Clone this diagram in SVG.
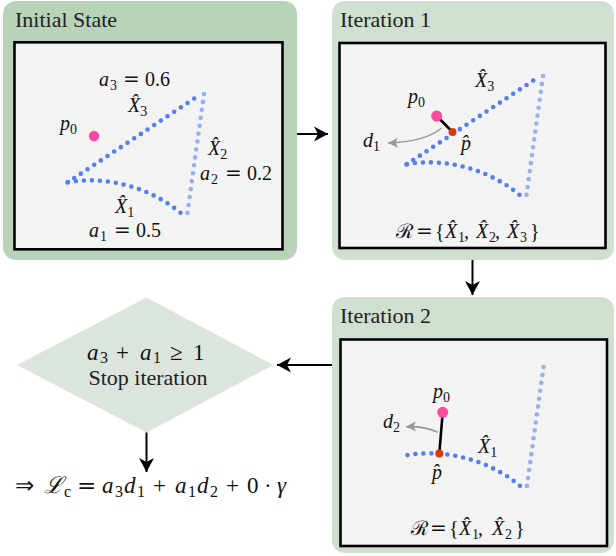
<svg xmlns="http://www.w3.org/2000/svg" xmlns:xlink="http://www.w3.org/1999/xlink" width="616" height="556" viewBox="0 0 616 556" font-family="Liberation Serif, serif">
<style>
.outer1{fill:#b8d3b8}
.outer2{fill:#cfdfd0}
.inner{fill:#f3f3f3;stroke:#000;stroke-width:2.6}
.title{font-family:"Liberation Serif",serif;font-size:22px;fill:#222}
.m{font-family:"Liberation Serif",serif;font-size:20px;fill:#111}
.eq{font-family:"DejaVu Serif","DejaVu Sans",sans-serif}
.b{font-size:23px}
.i{font-style:italic}
.s{font-size:14px}
.sb{font-size:16px}
.dk{fill:none;stroke:#4f7ff0;stroke-width:4.6;stroke-linecap:round;stroke-dasharray:0 8}
.lt{fill:none;stroke:#95b1f4;stroke-width:4.6;stroke-linecap:round;stroke-dasharray:0 8}
.conn{stroke:#000;stroke-width:2;fill:none}
.garr{stroke:#999;stroke-width:1.6;fill:none}
.p0{fill:#fb4aa0}
.ph{fill:#d83a0c}
</style>
<defs>
<path id="x3" class="dk" d="M67.5,182.5 L198,96"/>
<path id="x2" class="lt" d="M204,94 L187,216"/>
<path id="x1" class="dk" d="M68,182 C105,176 150,186 183,215"/>
<marker id="ah" markerWidth="16" markerHeight="16" refX="14" refY="8" orient="auto" markerUnits="userSpaceOnUse">
<path d="M14,8 L0,0.5 L4,8 L0,15.5 Z" fill="#000"/>
</marker>
<marker id="gh" markerWidth="12" markerHeight="12" refX="10" refY="6" orient="auto" markerUnits="userSpaceOnUse">
<path d="M10,6 L0,1 L2.5,6 L0,11 Z" fill="#999"/>
</marker>
</defs>

<g id="initial-state">
<rect class="outer1" x="3" y="1" width="294" height="259" rx="13"/>
<text class="title" x="15" y="27">Initial State</text>
<rect class="inner" x="14.5" y="42.3" width="268" height="207"/>
<use xlink:href="#x3"/>
<use xlink:href="#x2"/>
<use xlink:href="#x1"/>
<circle class="p0" cx="94" cy="136" r="5.2"/>
<text class="m" y="86"><tspan x="99" class="i">a</tspan><tspan class="s" x="110" dy="4">3</tspan><tspan class="eq" x="123" dy="-4">=</tspan><tspan x="145">0.6</tspan></text>
<text class="m" y="112"><tspan x="128" class="i">X̂</tspan><tspan class="s" dy="4">3</tspan></text>
<text class="m" y="130"><tspan x="60" class="i">p</tspan><tspan class="s" dy="4">0</tspan></text>
<text class="m" y="155"><tspan x="208" class="i">X̂</tspan><tspan class="s" dy="4">2</tspan></text>
<text class="m" y="180"><tspan x="200" class="i">a</tspan><tspan class="s" x="211" dy="4">2</tspan><tspan class="eq" x="225" dy="-4">=</tspan><tspan x="247">0.2</tspan></text>
<text class="m" y="213"><tspan x="115" class="i">X̂</tspan><tspan class="s" dy="4">1</tspan></text>
<text class="m" y="237"><tspan x="89" class="i">a</tspan><tspan class="s" x="100" dy="4">1</tspan><tspan class="eq" x="114" dy="-4">=</tspan><tspan x="136">0.5</tspan></text>
</g>

<g id="iteration-1">
<rect class="outer2" x="332" y="1" width="282" height="259" rx="13"/>
<text class="title" x="340" y="27">Iteration 1</text>
<rect class="inner" x="339.5" y="43" width="266" height="205"/>
<g transform="translate(339,-18)">
<use xlink:href="#x3"/>
<use xlink:href="#x2"/>
<use xlink:href="#x1"/>
</g>
<path class="garr" d="M441.5,128 Q425,142 388,143" marker-end="url(#gh)"/>
<line x1="436.7" y1="116" x2="452.5" y2="132" stroke="#000" stroke-width="2.6"/>
<circle class="p0" cx="436.7" cy="116" r="5.5"/>
<circle class="ph" cx="452.5" cy="132" r="4"/>
<text class="m" y="87"><tspan x="475" class="i">X̂</tspan><tspan class="s" dy="4">3</tspan></text>
<text class="m" y="103"><tspan x="408" class="i">p</tspan><tspan class="s" dy="4">0</tspan></text>
<text class="m" y="147"><tspan x="363" class="i">d</tspan><tspan class="s" dy="4">1</tspan></text>
<text class="m i" x="461" y="150">p̂</text>
<text class="m" y="238" font-size="18"><tspan x="396">ℛ</tspan><tspan class="eq" x="416">=</tspan><tspan x="435">{</tspan><tspan class="i" x="445">X̂</tspan><tspan class="s" x="458" dy="4">1</tspan><tspan x="464" dy="-4">,</tspan><tspan class="i" x="476">X̂</tspan><tspan class="s" x="489" dy="4">2</tspan><tspan x="495" dy="-4">,</tspan><tspan class="i" x="507">X̂</tspan><tspan class="s" x="520" dy="4">3</tspan><tspan x="530" dy="-4">}</tspan></text>
</g>

<g id="iteration-2">
<rect class="outer2" x="332" y="297" width="282" height="256" rx="13"/>
<text class="title" x="340" y="323">Iteration 2</text>
<rect class="inner" x="340.5" y="339.5" width="266.5" height="206.5"/>
<g transform="translate(339.5,273)">
<use xlink:href="#x2"/>
<use xlink:href="#x1"/>
</g>
<path class="garr" d="M437.7,432.3 Q425,426 406,426.7" marker-end="url(#gh)"/>
<line x1="442.7" y1="412.3" x2="439.3" y2="453.5" stroke="#000" stroke-width="2.6"/>
<circle class="p0" cx="442.7" cy="412.3" r="5.5"/>
<circle class="ph" cx="439.3" cy="453.5" r="4"/>
<text class="m" y="398"><tspan x="433" class="i">p</tspan><tspan class="s" dy="4">0</tspan></text>
<text class="m" y="428"><tspan x="383" class="i">d</tspan><tspan class="s" dy="4">2</tspan></text>
<text class="m" y="453"><tspan x="478" class="i">X̂</tspan><tspan class="s" dy="4">1</tspan></text>
<text class="m i" x="432" y="479">p̂</text>
<text class="m" y="535" font-size="18"><tspan x="411">ℛ</tspan><tspan class="eq" x="430">=</tspan><tspan x="449">{</tspan><tspan class="i" x="459">X̂</tspan><tspan class="s" x="472" dy="4">1</tspan><tspan x="478" dy="-4">,</tspan><tspan class="i" x="492">X̂</tspan><tspan class="s" x="505" dy="4">2</tspan><tspan x="515" dy="-4">}</tspan></text>
</g>

<g id="stop-decision">
<polygon points="17,365 146.5,297.5 273.5,365 146.5,432.5" fill="#dce5dd"/>
<text class="m b" y="360"><tspan class="i" x="87">a</tspan><tspan class="sb" x="100" dy="3">3</tspan><tspan x="116" dy="-3">+</tspan><tspan class="i" x="140">a</tspan><tspan class="sb" x="153" dy="3">1</tspan><tspan x="170" dy="-3">≥</tspan><tspan x="193">1</tspan></text>
<text class="title" x="148" y="385" text-anchor="middle" font-size="23">Stop iteration</text>
</g>

<g id="loss-result">
<text class="m b" y="493"><tspan x="15">⇒</tspan><tspan class="i" x="44">ℒ</tspan><tspan class="sb" x="64" dy="4">c</tspan><tspan class="eq" x="77" dy="-4">=</tspan><tspan class="i" x="102">a</tspan><tspan class="sb" x="115" dy="4">3</tspan><tspan class="i" x="124" dy="-4">d</tspan><tspan class="sb" x="137" dy="4">1</tspan><tspan x="153" dy="-4">+</tspan><tspan class="i" x="175">a</tspan><tspan class="sb" x="188" dy="4">1</tspan><tspan class="i" x="197" dy="-4">d</tspan><tspan class="sb" x="210" dy="4">2</tspan><tspan x="226" dy="-4">+</tspan><tspan x="247">0</tspan><tspan x="264">·</tspan><tspan class="i" x="277">γ</tspan></text>
</g>

<g id="connectors">
<line class="conn" x1="297" y1="134" x2="328" y2="134" marker-end="url(#ah)"/>
<line class="conn" x1="472.5" y1="260" x2="472.5" y2="295" marker-end="url(#ah)"/>
<line class="conn" x1="332" y1="365" x2="277" y2="365" marker-end="url(#ah)"/>
<line class="conn" x1="146.5" y1="432.5" x2="146.5" y2="472" marker-end="url(#ah)"/>
</g>
</svg>
